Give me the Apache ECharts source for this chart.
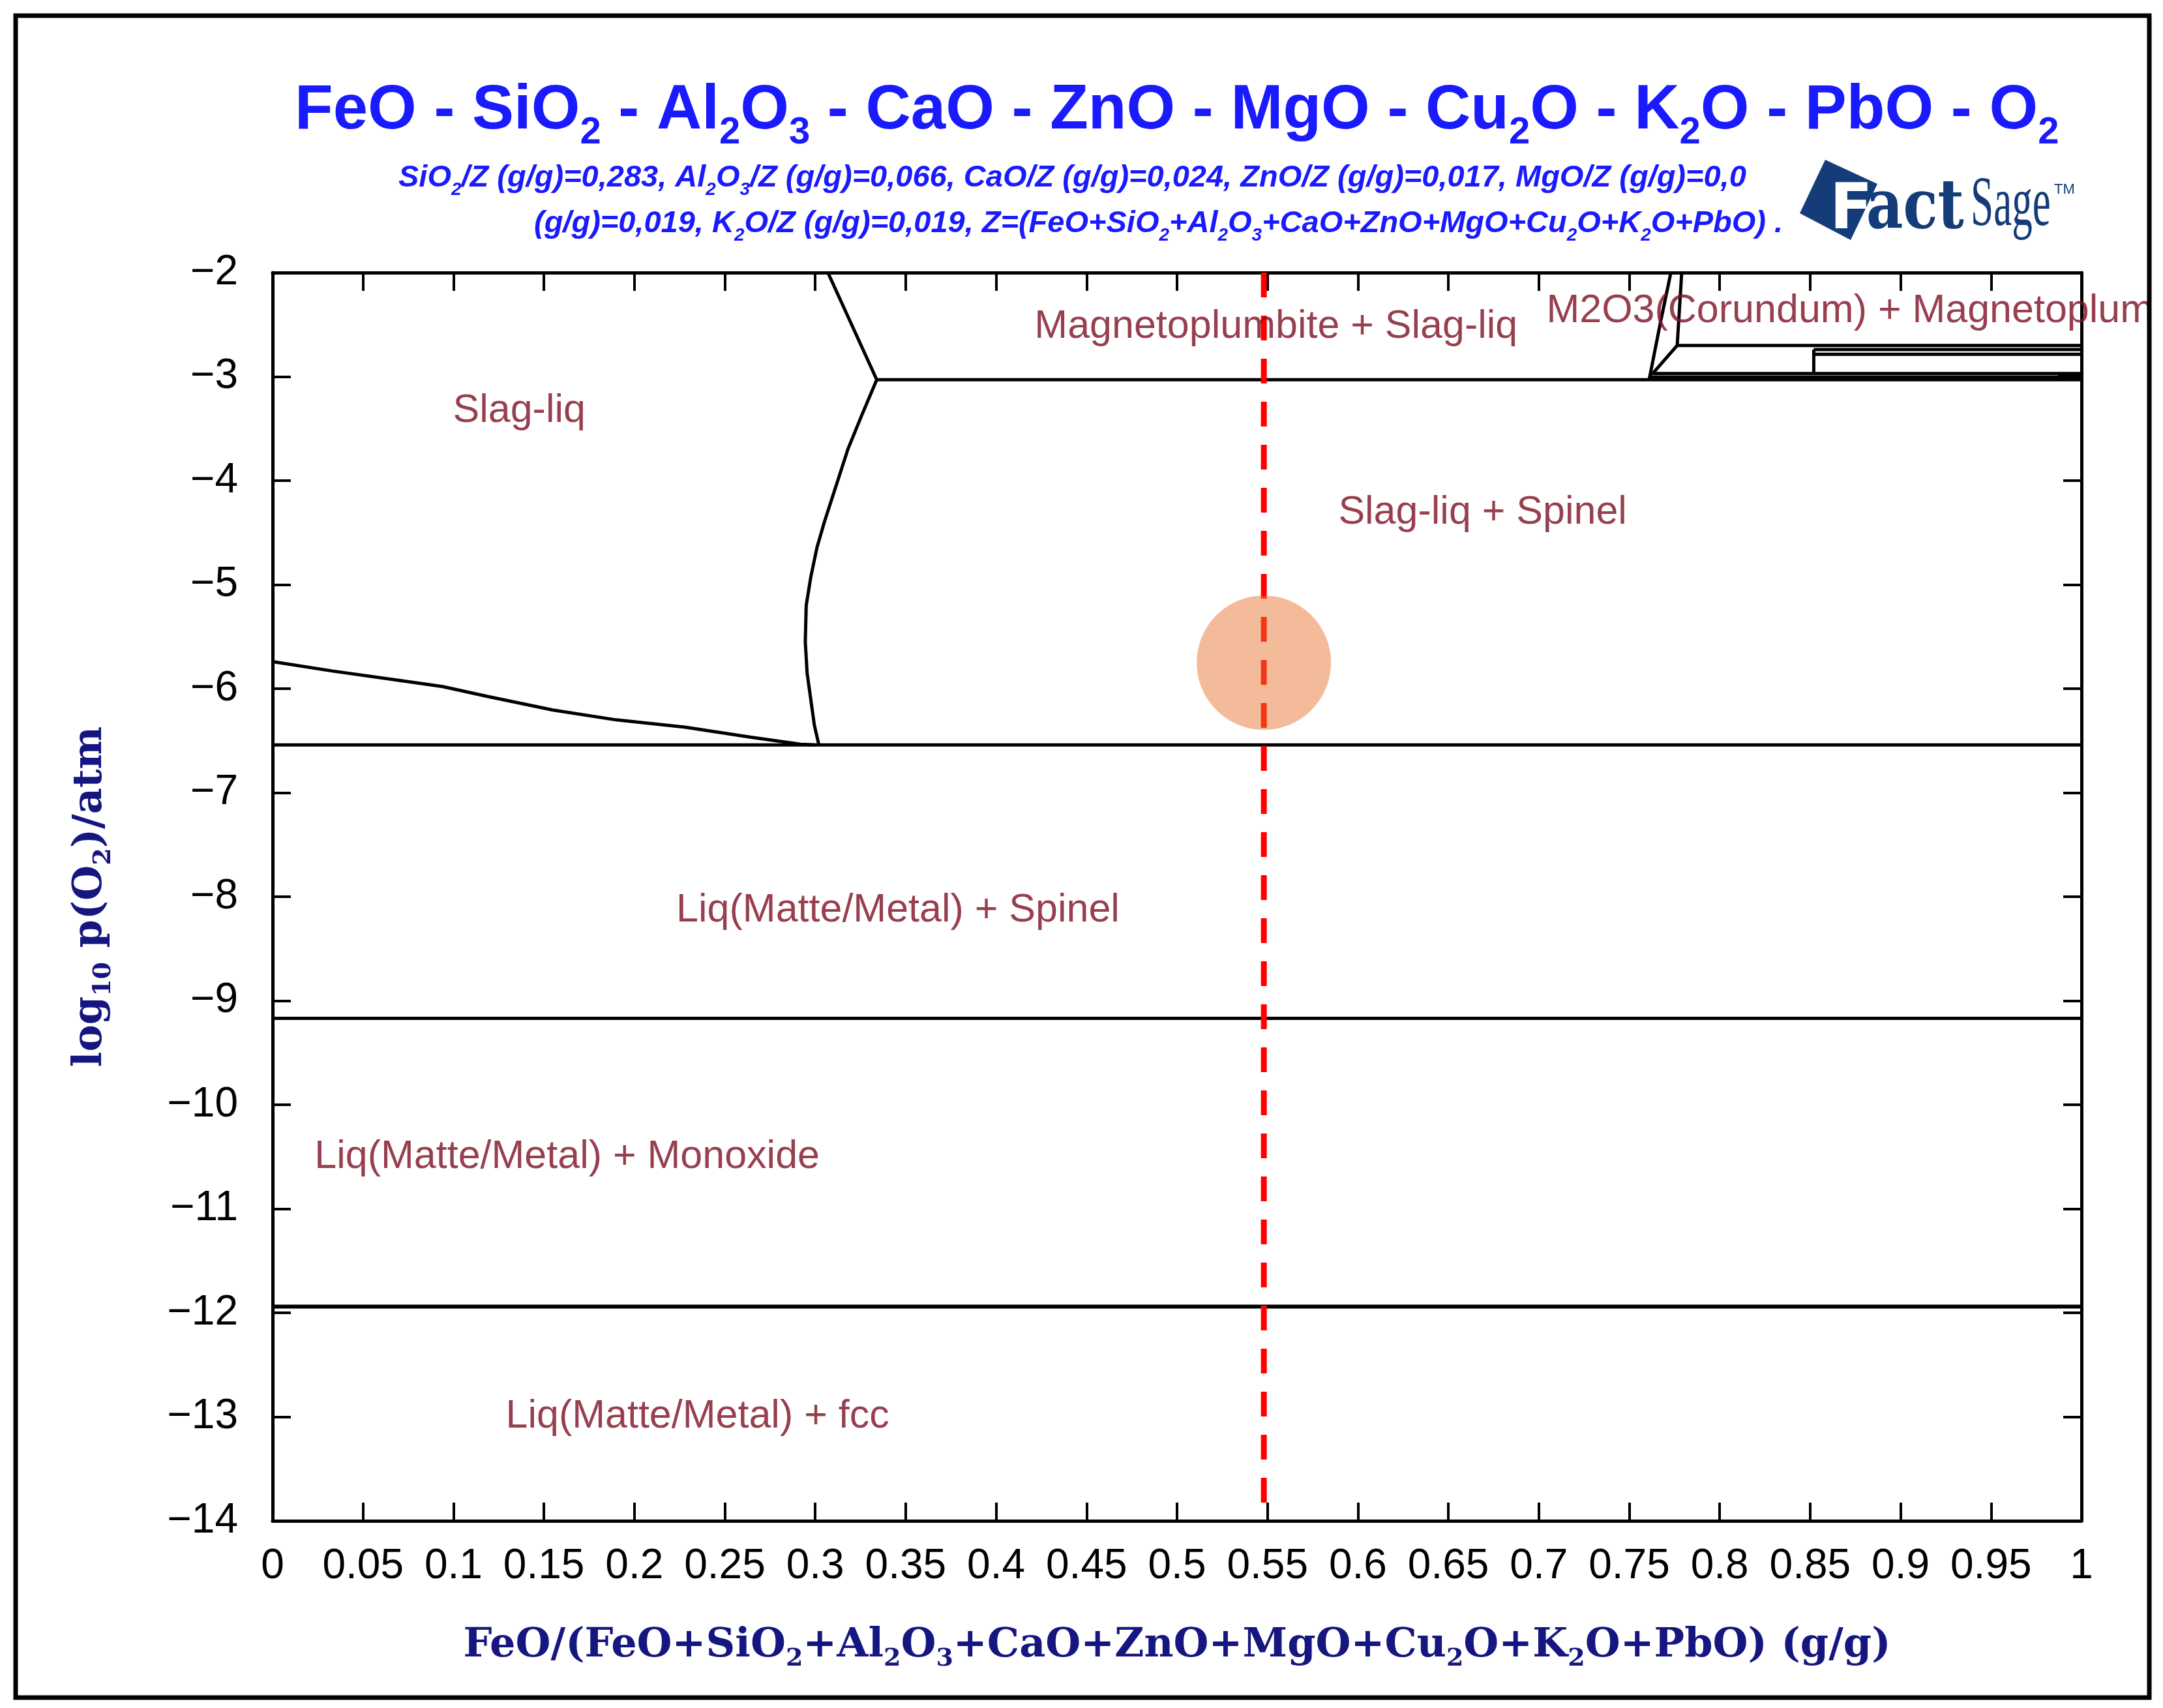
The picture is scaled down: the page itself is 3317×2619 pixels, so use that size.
<!DOCTYPE html>
<html>
<head>
<meta charset="utf-8">
<title>FeO - SiO2 - Al2O3 - CaO - ZnO - MgO - Cu2O - K2O - PbO - O2</title>
<script src="https://cdn.jsdelivr.net/npm/echarts@6/dist/echarts.min.js"></script>
<style>
html, body { margin: 0; padding: 0; background: #fff; }
#chart { width: 3317px; height: 2619px; }
</style>
</head>
<body>
<div id="chart"></div>
<script>
// phase boundaries, x = FeO/(FeO+...) (g/g), y = log10 p(O2)/atm
var slagLower = [[0, -5.74], [0.033, -5.83], [0.068, -5.915], [0.094, -5.98], [0.119, -6.075],
	[0.155, -6.205], [0.19, -6.3], [0.228, -6.37], [0.264, -6.465], [0.292, -6.535], [0.3, -6.54]];
var slagWall = [[0.307, -2], [0.334, -3.03], [0.3255, -3.38], [0.318, -3.7], [0.3115, -4.05],
	[0.305, -4.4], [0.301, -4.64], [0.2975, -4.93], [0.295, -5.2], [0.2945, -5.55],
	[0.2955, -5.85], [0.2975, -6.1], [0.2995, -6.35], [0.302, -6.54]];
var spinelTop = [[0.334, -3.03], [1, -3.03]];
var spinelBottom = [[0, -6.54], [1, -6.54]];
var monoxideTop = [[0, -9.17], [1, -9.17]];
var fccTop = [[0, -11.94], [1, -11.94]];
var corundumLeft = [[0.773, -2], [0.767, -2.5], [0.761, -3.03]];
var corundumRight = [[0.779, -2], [0.7765, -2.7], [0.763, -2.97]];
var cornerA = [[0.7765, -2.7], [1, -2.7]];
var cornerB = [[0.852, -2.74], [1, -2.74]];
var cornerC = [[0.852, -2.786], [1, -2.786]];
var cornerD = [[0.852, -2.74], [0.852, -2.97]];
var cornerE = [[0.762, -2.97], [1, -2.97]];
var cornerF = [[0.762, -3.005], [0.987, -3.005]];
var cornerEnd = [[0.987, -3.0], [1, -3.0]];

var boundaries = [slagLower, slagWall, spinelTop, spinelBottom, monoxideTop, fccTop,
	corundumLeft, corundumRight, cornerA, cornerB, cornerC, cornerD, cornerE, cornerF];

// phase field labels (left edge, vertical middle)
var labelText = ['Slag-liq', 'Magnetoplumbite + Slag-liq', 'M2O3(Corundum) + Magnetoplumbite',
	'Slag-liq + Spinel', 'Liq(Matte/Metal) + Spinel', 'Liq(Matte/Metal) + Monoxide', 'Liq(Matte/Metal) + fcc'];
var labelX = [0.0995, 0.421, 0.704, 0.589, 0.223, 0.023, 0.1287];
var labelY = [-3.33, -2.52, -2.37, -4.31, -8.13, -10.5, -13.0];

// chosen composition and working point
var scanX = 0.548;
var scanLine = [[scanX, -2], [scanX, -14]];
var workPoint = [[0.548, -5.75]];

var navy = '#161680';
var blue = '#1a1aff';

var myChart = echarts.init(document.getElementById('chart'));

var series = [];
for (var i = 0; i < boundaries.length; i++) {
	series.push({
		type: 'line',
		data: boundaries[i],
		symbol: 'none',
		silent: true,
		lineStyle: { color: '#000', width: i == 5 ? 6 : 5 },
		z: 2
	});
}
series.push({
	type: 'line',
	data: cornerEnd,
	symbol: 'none',
	silent: true,
	lineStyle: { color: '#000', width: 12 },
	z: 2
});
series.push({
	type: 'line',
	data: scanLine,
	symbol: 'none',
	silent: true,
	lineStyle: { color: '#ff0000', width: 9, type: [38, 28] },
	z: 3
});
series.push({
	type: 'scatter',
	data: workPoint,
	symbolSize: 206,
	silent: true,
	itemStyle: { color: 'rgba(232,112,46,0.6)' },
	z: 4
});
var labelData = [];
for (var i = 0; i < labelText.length; i++) {
	labelData.push({ name: labelText[i], value: [labelX[i], labelY[i]] });
}
series.push({
	type: 'scatter',
	data: labelData,
	symbolSize: 1,
	silent: true,
	itemStyle: { color: 'transparent' },
	label: {
		show: true,
		position: 'right',
		distance: 0,
		formatter: '{b}',
		color: '#7d0f22',
		fontSize: 61,
		fontFamily: 'Liberation Sans'
	},
	z: 5
});

var tickFont = 'Liberation Sans Narrow, Liberation Sans';
var nameRich = {
	m: { fontSize: 62, fontWeight: 'bold', fontFamily: 'DejaVu Serif', color: navy, lineHeight: 72, verticalAlign: 'middle' },
	s: { fontSize: 38, fontWeight: 'bold', fontFamily: 'DejaVu Serif', color: navy, lineHeight: 40, padding: [40, 0, 0, 0], verticalAlign: 'middle' }
};

function baseAxis(pos) {
	return {
		type: 'value',
		position: pos,
		axisLine: { show: true, onZero: false, lineStyle: { color: '#000', width: 5 } },
		axisTick: { show: true, inside: true, length: 28, lineStyle: { color: '#000', width: 4 } },
		splitLine: { show: false }
	};
}

var xBottom = baseAxis('bottom');
xBottom.min = 0; xBottom.max = 1; xBottom.interval = 0.05;
xBottom.axisLabel = { margin: 38, fontSize: 64, fontFamily: tickFont, color: '#000', showMinLabel: true, showMaxLabel: true };
xBottom.name = '{m|FeO/(FeO+SiO}{s|2}{m|+Al}{s|2}{m|O}{s|3}{m|+CaO+ZnO+MgO+Cu}{s|2}{m|O+K}{s|2}{m|O+PbO) (g/g)}';
xBottom.nameLocation = 'middle';
xBottom.nameGap = 156;
xBottom.nameTextStyle = { rich: nameRich };

var xTop = baseAxis('top');
xTop.min = 0; xTop.max = 1; xTop.interval = 0.05;
xTop.axisLabel = { show: false };

var yLeft = baseAxis('left');
yLeft.min = -14; yLeft.max = -2; yLeft.interval = 1;
yLeft.axisLabel = {
	margin: 53, fontSize: 64, fontFamily: tickFont, color: '#000',
	formatter: function(v) { return String(v).replace('-', '\u2212'); }
};
yLeft.name = '{m|log}{s|10}{m| p(O}{s|2}{m|)/atm}';
yLeft.nameLocation = 'middle';
yLeft.nameRotate = 90;
yLeft.nameGap = 243;
yLeft.nameTextStyle = { rich: nameRich };

var yRight = baseAxis('right');
yRight.min = -14; yRight.max = -2; yRight.interval = 1;
yRight.axisLabel = { show: false };

var titleRich = {
	m: { fontSize: 96, fontWeight: 'bold', fontFamily: 'Liberation Sans', color: blue, lineHeight: 110, verticalAlign: 'middle' },
	s: { fontSize: 58, fontWeight: 'bold', fontFamily: 'Liberation Sans', color: blue, lineHeight: 60, padding: [65, 0, 0, 0], verticalAlign: 'middle' }
};
var subRich = {
	m: { fontSize: 47, fontWeight: 'bold', fontStyle: 'italic', fontFamily: 'Liberation Sans', color: blue, lineHeight: 54, verticalAlign: 'middle' },
	s: { fontSize: 28, fontWeight: 'bold', fontStyle: 'italic', fontFamily: 'Liberation Sans', color: blue, lineHeight: 30, padding: [37, 0, 0, 0], verticalAlign: 'middle' }
};

option = {
	backgroundColor: '#fff',
	animation: false,
	title: [
		{
			left: 452, top: 116, padding: 0,
			text: '{m|FeO - SiO}{s|2}{m| - Al}{s|2}{m|O}{s|3}{m| - CaO - ZnO - MgO - Cu}{s|2}{m|O - K}{s|2}{m|O - PbO - O}{s|2}',
			textStyle: { rich: titleRich }
		},
		{
			left: 611, top: 246, padding: 0,
			text: '{m|SiO}{s|2}{m|/Z (g/g)=0,283, Al}{s|2}{m|O}{s|3}{m|/Z (g/g)=0,066, CaO/Z (g/g)=0,024, ZnO/Z (g/g)=0,017, MgO/Z (g/g)=0,0}',
			textStyle: { rich: subRich }
		},
		{
			left: 819, top: 316, padding: 0,
			text: '{m|(g/g)=0,019, K}{s|2}{m|O/Z (g/g)=0,019, Z=(FeO+SiO}{s|2}{m|+Al}{s|2}{m|O}{s|3}{m|+CaO+ZnO+MgO+Cu}{s|2}{m|O+K}{s|2}{m|O+PbO) .}',
			textStyle: { rich: subRich }
		}
	],
	grid: { left: 418, right: 125, top: 418, bottom: 287, containLabel: false, outerBoundsMode: 'none' },
	xAxis: [xBottom, xTop],
	yAxis: [yLeft, yRight],
	series: series,
	graphic: [
		// FactSage logo
		{ type: 'polygon', shape: { points: [[2799, 245], [2879, 282], [2838, 368], [2760, 327]] }, style: { fill: '#143c78' }, z: 10 },
		{ type: 'text', x: 2806, y: 373, style: { text: 'F', font: 'bold 96px DejaVu Sans', fill: '#fff', textAlign: 'left', textVerticalAlign: 'bottom' }, z: 11 },
		{ type: 'text', x: 2862, y: 375, scaleX: 0.83, style: { text: 'act', font: 'bold 105px DejaVu Serif', fill: '#143c78', textAlign: 'left', textVerticalAlign: 'bottom' }, z: 11 },
		{ type: 'text', x: 3022, y: 371, scaleX: 0.585, style: { text: 'Sage', font: '108px Liberation Serif', fill: '#143c78', textAlign: 'left', textVerticalAlign: 'bottom' }, z: 11 },
		{ type: 'text', x: 3150, y: 280, style: { text: 'TM', font: '22px Liberation Sans', fill: '#143c78', textAlign: 'left', textVerticalAlign: 'top' }, z: 11 },
		// mask outside frame and the frame itself
		{ type: 'rect', shape: { x: 3299, y: 0, width: 18, height: 2619 }, style: { fill: '#fff' }, z: 100 },
		{ type: 'rect', shape: { x: 24, y: 24, width: 3272, height: 2579 }, style: { fill: 'none', stroke: '#000', lineWidth: 7 }, z: 101 }
	]
};

myChart.setOption(option);
</script>
</body>
</html>
